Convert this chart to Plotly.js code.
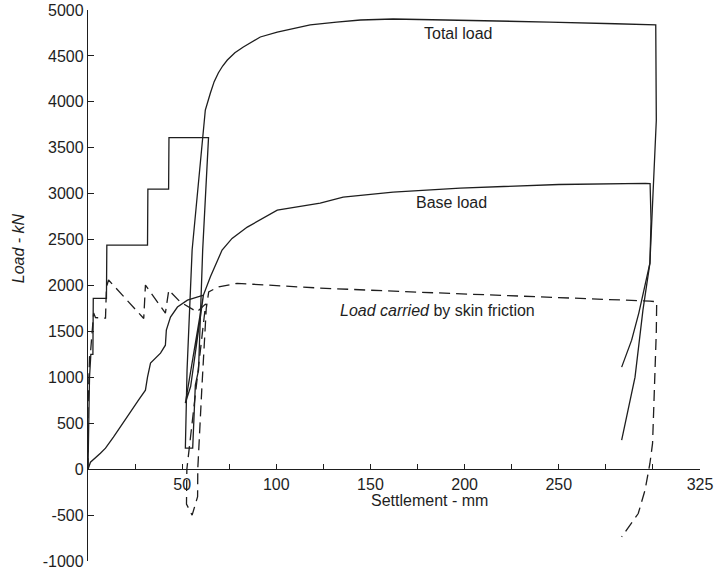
<!DOCTYPE html>
<html><head><meta charset="utf-8">
<script src="https://cdn.plot.ly/plotly-3.0.1.min.js"></script>
<style>html,body{margin:0;padding:0;background:#fff}</style>
</head><body><div id="chart" style="width:719px;height:579px"></div>
<script>
// Settlement (mm) and load (kN)
const totalSettlement = [0,0.3,0.8,1.5,2.6,2.8,9.8,10.0,31.6,31.8,42.8,43.0,64.0,60.9,58.7,57.0,55.6,51.7,52.6,55.3,60.7,62.3,65.0,67.0,69.2,71.5,74.0,78.0,82.5,91.5,100.5,118,132,144.7,162,197.6,245,280,301.5,301.8,300.3,298.4,294.7,290.5,283.4];
const totalLoad       = [0,600,1000,1250,1250,1860,1860,2440,2440,3050,3050,3610,3610,2386,1078,915,229,229,1078,2386,3610,3911,4096,4220,4314,4390,4455,4535,4597,4706,4760,4837,4869,4891,4902,4891,4869,4850,4837,3800,3115,2244,1732,1002,316];

const baseSettlement = [0,1.3,6.6,9.3,13.5,18.8,22.5,26.8,30.5,31.6,33.2,38.5,41.1,41.6,43.8,47.5,52.8,61.3,56.5,51.7,54.5,57.5,61.3,65.0,71.2,76.5,84.6,100.5,123.3,135.5,162,197.6,250,296,298.5,299,298.4,292.5,288.7,283.4];
const baseLoad       = [0,76,174,229,349,501,621,752,860,1002,1155,1264,1350,1514,1656,1765,1841,1895,1300,719,900,1350,1895,2095,2386,2513,2636,2821,2897,2963,3017,3061,3100,3112,3110,2700,2244,1700,1405,1111];

const skinSettlement = [0,0,0.5,0.8,1.3,3.0,4.0,9.3,9.8,10.9,29.6,30.5,41.1,42.9,49.0,57.9,62.5,57.0,52.5,52.3,55.3,58.2,58.3,60.5,62.8,64.1,69.4,79.2,123.3,165.8,218.8,254.4,298.4,302,301.8,300.5,299.8,298.4,295.8,292.2,283.4];
const skinLoad       = [0,650,1000,1223,1263,1700,1650,1645,1983,2060,1641,2004,1699,1950,1820,1713,1800,800,0,-380,-500,-300,0,900,1750,1931,1986,2023,1972,1935,1895,1870,1830,1823,1500,700,280,62,-229,-483,-737];

const xTickVals = [25,50,75,100,125,150,175,200,225,250,275,300,325];
const xTickText = ['','50','','100','','150','','200','','250','','','325'];
const yTickVals = [-1000,-500,0,500,1000,1500,2000,2500,3000,3500,4000,4500,5000];
const yTickText = ['-1000','-500','0','500','1000','1500','2000','2500','3000','3500','4000','4500','5000'];

const ink = '#1e1e1e';
const fontFam = 'Liberation Sans, Arial, sans-serif';

const traces = [
  {x: totalSettlement, y: totalLoad, mode:'lines', name:'Total load',
   line:{color:ink, width:1.3}, hoverinfo:'skip'},
  {x: baseSettlement, y: baseLoad, mode:'lines', name:'Base load',
   line:{color:ink, width:1.3}, hoverinfo:'skip'},
  {x: skinSettlement, y: skinLoad, mode:'lines', name:'Load carried by skin friction',
   line:{color:ink, width:1.3, dash:'11px,6px'}, hoverinfo:'skip'}
];

const layout = {
  width:719, height:579,
  margin:{l:88, r:19, t:10, b:18, pad:0},
  paper_bgcolor:'#fff', plot_bgcolor:'#fff',
  showlegend:false,
  font:{family:fontFam, color:ink},
  xaxis:{range:[0,325], anchor:'free', position:1/6,
    showline:true, linecolor:ink, linewidth:1.2,
    ticks:'inside', ticklen:5, tickcolor:ink, tickwidth:1,
    tickvals:xTickVals, ticktext:xTickText,
    tickfont:{family:fontFam, size:16, color:ink},
    showgrid:false, zeroline:false, fixedrange:true},
  yaxis:{range:[-1000,5000], domain:[0,1],
    showline:true, linecolor:ink, linewidth:1.2,
    ticks:'inside', ticklen:6, tickcolor:ink, tickwidth:1,
    tickvals:yTickVals, ticktext:yTickText,
    tickfont:{family:fontFam, size:16, color:ink},
    showgrid:false, zeroline:false, fixedrange:true},
  annotations:[
    {x:196.6, y:4749, xref:'x', yref:'y', text:'Total load', showarrow:false,
     xanchor:'center', yanchor:'middle', font:{family:fontFam, size:16, color:ink}},
    {x:192.8, y:2900, xref:'x', yref:'y', text:'Base load', showarrow:false,
     xanchor:'center', yanchor:'middle', font:{family:fontFam, size:16, color:ink}},
    {x:185.5, y:1727, xref:'x', yref:'y', text:'<i>Load carried</i> by skin friction', showarrow:false,
     xanchor:'center', yanchor:'middle', font:{family:fontFam, size:16, color:ink}},
    {x:-0.114, y:0.568, xref:'paper', yref:'paper', text:'<i>Load - kN</i>', textangle:-90,
     xanchor:'center', yanchor:'middle', showarrow:false, font:{family:fontFam, size:16, color:ink}},
    {x:0.5576, y:0.1089, xref:'paper', yref:'paper', text:'Settlement - mm',
     xanchor:'center', yanchor:'middle', showarrow:false, font:{family:fontFam, size:16, color:ink}}
  ]
};

Plotly.newPlot('chart', traces, layout, {staticPlot:true, displayModeBar:false});
</script></body></html>
